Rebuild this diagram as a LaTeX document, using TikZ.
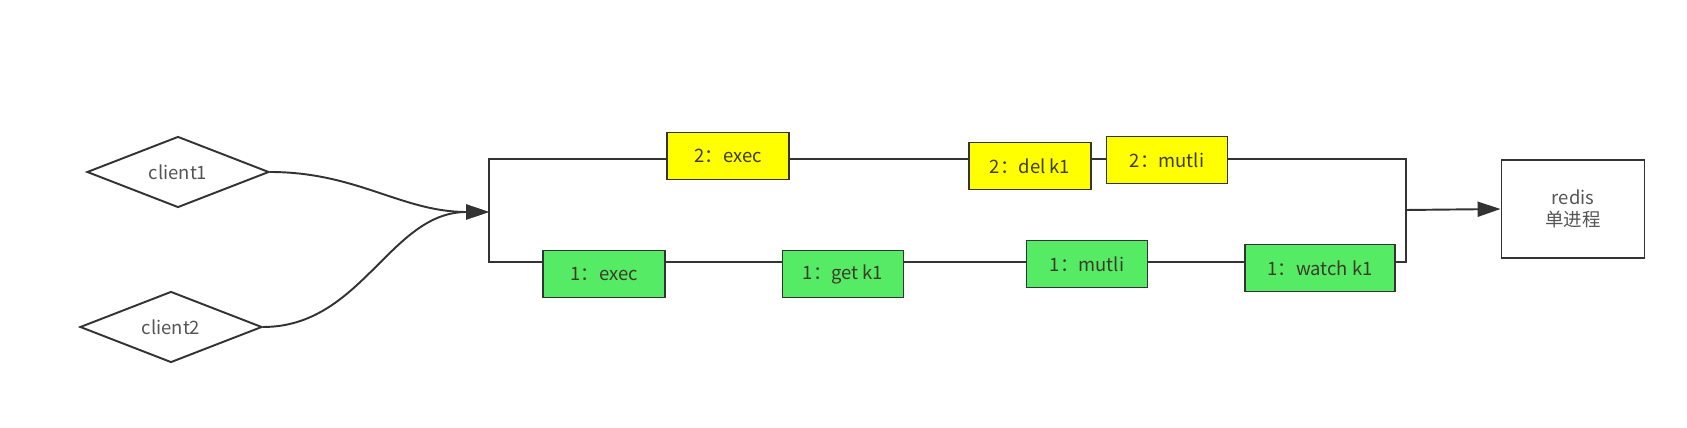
\documentclass[tikz,border=0pt]{standalone}
\usepackage{fontspec}
\setmainfont{Noto Sans CJK SC}
\usetikzlibrary{arrows.meta,shapes.geometric}
\definecolor{lineColor}{RGB}{51, 51, 51}
\definecolor{textColor}{RGB}{85, 85, 85}
\definecolor{cmdText}{RGB}{60, 60, 40}
\definecolor{cmdYellow}{RGB}{255, 255, 0}
\definecolor{cmdGreen}{RGB}{85, 235, 100}

\begin{document}
\begin{tikzpicture}[x=0.02cm, y=-0.02cm,
    every node/.style={font=\fontsize{10.5}{12.5}\selectfont, text=textColor},
    client/.style={diamond, draw=lineColor, line width=1.1pt, fill=white, aspect=2.5, minimum width=3.64cm, minimum height=1.42cm, inner sep=0pt},
    cmd/.style={rectangle, draw=lineColor, line width=1.1pt, minimum height=0.94cm, inner sep=0pt, text=cmdText},
    flow/.style={draw=lineColor, line width=1.1pt},
    arrow/.style={flow, -{Triangle[length=0.46cm, width=0.3cm]}}]
    \useasboundingbox (0,0) rectangle (1687,428);
    % Clients
    \node[client] (c1) at (178,172) {client1};
    \node[client] (c2) at (171,327) {client2};
    % Loop of the two queues
    \coordinate (lt) at (489,159);
    \coordinate (lb) at (489,262);
    \coordinate (rt) at (1406,159);
    \coordinate (rb) at (1406,262);
    \coordinate (join) at (489,212);
    \coordinate (out) at (1406,210);
    \draw[flow] (lb) -- (lt) -- (rt) -- (rb) -- cycle;
    % Commands of client2
    \node[cmd, fill=cmdYellow, minimum width=2.44cm] (exec2) at (728,156) {2：exec};
    \node[cmd, fill=cmdYellow, minimum width=2.44cm] (del2) at (1030,166) {2：del k1};
    \node[cmd, fill=cmdYellow, minimum width=2.42cm] (multi2) at (1167,160) {2：mutli};
    % Commands of client1
    \node[cmd, fill=cmdGreen, minimum width=2.44cm] (exec1) at (604,274) {1：exec};
    \node[cmd, fill=cmdGreen, minimum width=2.42cm] (get1) at (843,274) {1：get k1};
    \node[cmd, fill=cmdGreen, minimum width=2.42cm] (multi1) at (1087,264) {1：mutli};
    \node[cmd, fill=cmdGreen, minimum width=3cm] (watch1) at (1320,268) {1：watch k1};
    % Redis
    \node[rectangle, draw=lineColor, line width=1.1pt, minimum width=2.86cm, minimum height=1.96cm, align=center] (redis) at (1573,209) {redis\\单进程};

    \draw[arrow] (c1.east) to[out=0, in=180] (join);
    \draw[arrow] (c2.east) to[out=0, in=180] (join);
    \draw[arrow] (out) -- (redis.west);
\end{tikzpicture}
\end{document}
